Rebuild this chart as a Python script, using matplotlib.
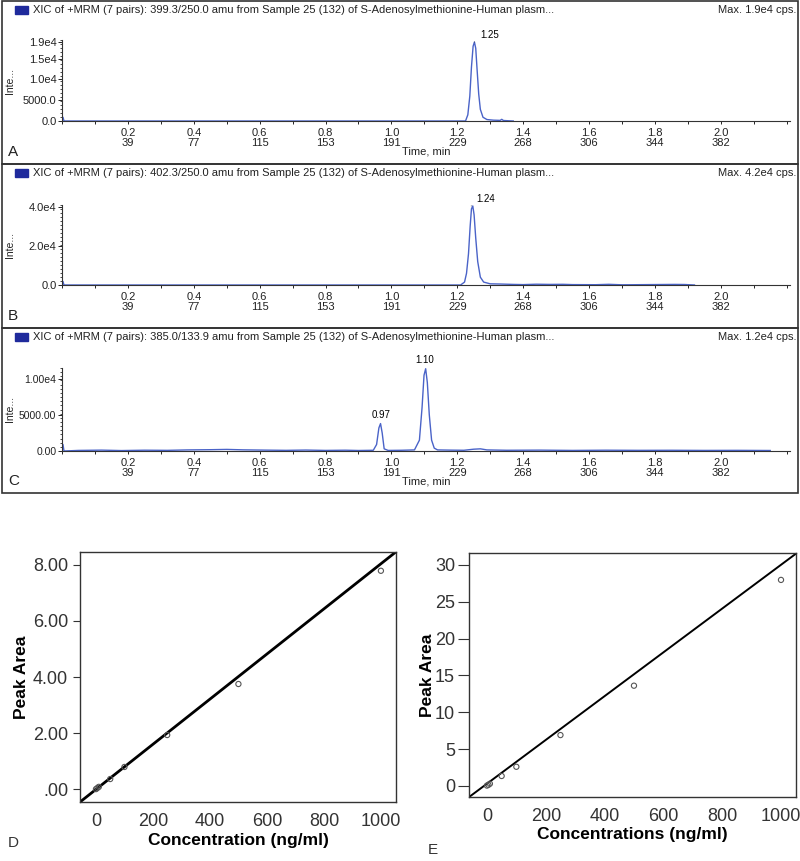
import matplotlib
matplotlib.use("Agg")
import matplotlib.pyplot as plt
from matplotlib.patches import Rectangle
from matplotlib.ticker import MultipleLocator, FixedLocator

plt.rcParams["font.family"] = ["Liberation Sans", "DejaVu Sans"]

W, H = 800, 861

# ---- chromatogram data (time in min, intensity in cps) ----
time_ticks = [0.2, 0.4, 0.6, 0.8, 1.0, 1.2, 1.4, 1.6, 1.8, 2.0]
scan_ticks = [39, 77, 115, 153, 191, 229, 268, 306, 344, 382]

titles = [
    "XIC of +MRM (7 pairs): 399.3/250.0 amu from Sample 25 (132) of S-Adenosylmethionine-Human plasm...",
    "XIC of +MRM (7 pairs): 402.3/250.0 amu from Sample 25 (132) of S-Adenosylmethionine-Human plasm...",
    "XIC of +MRM (7 pairs): 385.0/133.9 amu from Sample 25 (132) of S-Adenosylmethionine-Human plasm...",
]
max_labels = ["Max. 1.9e4 cps.", "Max. 4.2e4 cps.", "Max. 1.2e4 cps."]

a_time = [0.0, 0.003, 0.006, 1.225, 1.232, 1.238, 1.243, 1.248, 1.252, 1.256,
          1.260, 1.265, 1.270, 1.278, 1.29, 1.31, 1.33, 1.335, 1.34, 1.37]
a_int = [0, 900, 0, 0, 1500, 6000, 13000, 18000, 19000, 17500,
         12500, 6500, 2800, 900, 350, 200, 150, 400, 120, 0]

b_time = [0.0, 0.003, 0.006, 1.21, 1.222, 1.228, 1.234, 1.239, 1.243, 1.247,
          1.251, 1.256, 1.262, 1.270, 1.28, 1.30, 1.33, 1.37, 1.40, 1.44,
          1.48, 1.52, 1.55, 1.62, 1.66, 1.70, 1.86, 1.89, 1.92]
b_int = [0, 1800, 0, 0, 1500, 6000, 16000, 30000, 39000, 40500,
         36000, 24000, 12000, 4000, 1500, 600, 500, 300, 200, 400,
         300, 350, 200, 150, 350, 100, 300, 250, 0]

c_time = [0.0, 0.003, 0.006, 0.05, 0.12, 0.18, 0.25, 0.32, 0.38, 0.45,
          0.50, 0.55, 0.62, 0.68, 0.74, 0.80, 0.86, 0.90, 0.945, 0.955,
          0.962, 0.967, 0.972, 0.978, 0.99, 1.03, 1.07, 1.085, 1.093, 1.099,
          1.104, 1.109, 1.115, 1.122, 1.13, 1.14, 1.18, 1.22, 1.25, 1.27,
          1.29, 1.35, 1.45, 1.55, 1.65, 1.75, 1.85, 1.95, 2.05, 2.15]
c_int = [0, 900, 0, 80, 120, 60, 110, 90, 150, 180,
         220, 160, 120, 90, 130, 80, 110, 70, 100, 900,
         3200, 3800, 2500, 300, 80, 100, 150, 1500, 6000, 10500,
         11400, 9500, 5000, 1500, 400, 150, 120, 100, 250, 300,
         150, 100, 120, 80, 110, 90, 100, 80, 90, 70]

traces = [(a_time, a_int), (b_time, b_int), (c_time, c_int)]
y_limits = [19500, 41000, 11500]
y_major = [[0, 5000, 10000, 15000, 19000], [0, 20000, 40000], [0, 5000, 10000]]
y_labels = [["0.0", "5000.0", "1.0e4", "1.5e4", "1.9e4"],
            ["0.0", "2.0e4", "4.0e4"],
            ["0.00", "5000.00", "1.00e4"]]
peak_times = [[1.25], [1.24], [0.97, 1.10]]
peak_heights = [[19000], [40500], [3800, 11400]]
panel_letters = ["A", "B", "C"]

# ---- calibration data ----
conc = [0, 5, 10, 50, 100, 250, 500, 1000]
area_d = [0.0, 0.04, 0.08, 0.36, 0.79, 1.93, 3.75, 7.79]
area_e = [0.05, 0.15, 0.3, 1.35, 2.6, 6.9, 13.6, 27.95]
fit_d = (0.00805, -0.01)
fit_e = (0.0297, 0.3)


def px_axes(fig, left, top, right, bottom):
    return fig.add_axes([left / W, 1 - bottom / H, (right - left) / W, (bottom - top) / H])


fig = plt.figure(figsize=(W / 100, H / 100), dpi=100)

blue = "#4a63c8"
ink = "#222222"
box_tops = [1, 164, 328]
box_bottoms = [164, 328, 493]
ax_tops = [40, 205, 368]
ax_bottoms = [121, 285, 451]

for i in range(3):
    # frame around each chromatogram
    fig.patches.append(Rectangle((2 / W, 1 - box_bottoms[i] / H), 796 / W,
                                 (box_bottoms[i] - box_tops[i]) / H,
                                 transform=fig.transFigure, fill=False,
                                 edgecolor="#333333", lw=1.2))
    ty = 1 - (box_tops[i] + 9) / H
    fig.patches.append(Rectangle((15 / W, ty - 4 / H), 13 / W, 8 / H,
                                 transform=fig.transFigure, color="#1f2a9c"))
    fig.text(33 / W, ty, titles[i], fontsize=8, va="center", color=ink)
    fig.text(796 / W, ty, max_labels[i], fontsize=8, va="center", ha="right",
             color=ink)
    fig.text(8 / W, 1 - (box_bottoms[i] - 12) / H, panel_letters[i], fontsize=11,
             va="center", color=ink)

    ax = px_axes(fig, 62, ax_tops[i], 790, ax_bottoms[i])
    t, y = traces[i]
    ax.plot(t, y, color=blue, lw=1.0)
    ax.set_xlim(0, 2.21)
    ax.set_ylim(0, y_limits[i])
    for s in ["top", "right"]:
        ax.spines[s].set_visible(False)
    ax.spines["left"].set_color("#333333")
    ax.spines["bottom"].set_color("#333333")
    ax.xaxis.set_major_locator(FixedLocator(time_ticks))
    ax.set_xticklabels([f"{a:.1f}\n{b}" for a, b in zip(time_ticks, scan_ticks)],
                       fontsize=8, color=ink, linespacing=1.05)
    ax.xaxis.set_minor_locator(MultipleLocator(0.1))
    ax.tick_params(axis="x", which="both", length=2, width=0.6, pad=3)
    ax.yaxis.set_major_locator(FixedLocator(y_major[i]))
    ax.set_yticklabels(y_labels[i], fontsize=7.5 if i == 2 else 8, color=ink)
    ax.yaxis.set_minor_locator(MultipleLocator(y_limits[i] / 20))
    ax.tick_params(axis="y", which="major", length=3, width=0.6, pad=1)
    ax.tick_params(axis="y", which="minor", length=1.5, width=0.5)
    ax.set_ylabel("Inte...", fontsize=7.5, color=ink)
    ax.yaxis.set_label_coords(-47 / 728, 0.5)
    if i == 0 or i == 2:
        ax.set_xlabel("Time, min", fontsize=8, labelpad=-1, color=ink)
    for pt, ph in zip(peak_times[i], peak_heights[i]):
        if i < 2:
            ax.annotate(f"{pt:.2f}", (pt + 0.002, ph), xytext=(4, 3),
                        textcoords="offset points", fontsize=7,
                        arrowprops=dict(arrowstyle="-", lw=0.5, color=ink),
                        annotation_clip=False)
        else:
            ax.annotate(f"{pt:.2f}", (pt, ph), xytext=(0, 4),
                        textcoords="offset points", fontsize=7, ha="center",
                        annotation_clip=False)

# ---- calibration curves ----
ax_d = px_axes(fig, 80, 552, 396, 802)
ax_e = px_axes(fig, 469, 553, 796, 797)

ax_d.set_xlim(-56, 1053)
ax_d.set_ylim(-0.46, 8.46)
ax_d.axline((0, fit_d[1]), slope=fit_d[0], color="black", lw=2.0)
ax_d.scatter(conc, area_d, s=14, facecolors="none", edgecolors="#555555", lw=0.8,
             zorder=3)
ax_d.set_yticks([0, 2, 4, 6, 8])
ax_d.set_yticklabels([".00", "2.00", "4.00", "6.00", "8.00"])
ax_d.set_xticks([0, 200, 400, 600, 800, 1000])
ax_d.set_xlabel("Concentration (ng/ml)", fontsize=12.5, fontweight="bold",
                labelpad=2)
ax_d.set_ylabel("Peak Area", fontsize=12.5, fontweight="bold", labelpad=3)

ax_e.set_xlim(-61, 1051)
ax_e.set_ylim(-1.5, 31.6)
ax_e.axline((0, fit_e[1]), slope=fit_e[0], color="black", lw=1.4)
ax_e.scatter(conc, area_e, s=14, facecolors="none", edgecolors="#555555", lw=0.8,
             zorder=3)
ax_e.set_yticks([0, 5, 10, 15, 20, 25, 30])
ax_e.set_xticks([0, 200, 400, 600, 800, 1000])
ax_e.set_xlabel("Concentrations (ng/ml)", fontsize=12.5, fontweight="bold",
                labelpad=1)
ax_e.set_ylabel("Peak Area", fontsize=12.5, fontweight="bold", labelpad=0)

for ax in (ax_d, ax_e):
    for s in ax.spines.values():
        s.set_color("#333333")
        s.set_linewidth(1.0)
    ax.tick_params(axis="both", labelsize=13, colors="#333333", labelcolor="#333333")
    ax.tick_params(axis="x", length=0, pad=8)
    ax.tick_params(axis="y", length=5, width=0.8)
ax_e.tick_params(axis="y", length=8, pad=2)

fig.text(8 / W, 1 - 843 / H, "D", fontsize=11, va="center", color="#333333")
fig.text(428 / W, 1 - 850 / H, "E", fontsize=11, va="center", color="#333333")

fig.savefig("out.png", dpi=100)
